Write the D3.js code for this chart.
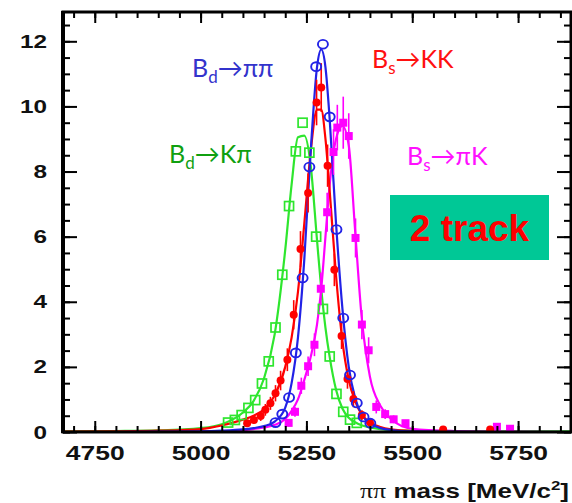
<!DOCTYPE html>
<html>
<head>
<meta charset="utf-8">
<script src="https://cdn.jsdelivr.net/npm/d3@7"></script>
<style>
  html, body { margin: 0; padding: 0; background: #fff; }
  svg { display: block; }
</style>
</head>
<body>
<div id="chart"></div>
<script>
// B_d -> K pi (open green squares)
const kpiMass = [5065, 5081, 5097, 5113, 5129, 5145, 5161, 5177, 5193, 5209, 5225, 5241, 5257, 5273, 5289, 5305, 5321, 5337, 5353, 5369];
const kpiVals = [0.29, 0.37, 0.52, 0.74, 0.98, 1.49, 2.17, 3.21, 4.83, 6.94, 8.62, 9.50, 8.58, 6.00, 3.78, 2.32, 1.17, 0.62, 0.38, 0.28];

// B_d -> pi pi (open blue circles)
const pipiMass = [5177, 5193, 5209, 5225, 5241, 5257, 5273, 5289, 5305, 5321, 5337, 5353, 5369, 5385, 5401];
const pipiVals = [0.29, 0.55, 1.06, 2.43, 4.73, 8.14, 11.22, 11.91, 9.68, 6.22, 3.50, 1.75, 0.89, 0.46, 0.27];

// B_s -> K K (filled red circles)
const kkMass = [5110, 5126, 5142, 5153, 5165, 5177, 5189, 5205, 5220, 5236, 5254, 5274, 5285, 5300, 5316, 5333, 5347, 5361, 5381, 5400, 5573, 5684];
const kkVals = [0.27, 0.37, 0.49, 0.68, 0.88, 1.19, 1.58, 2.22, 3.60, 5.62, 7.34, 10.12, 10.58, 8.18, 4.98, 2.95, 1.63, 1.01, 0.52, 0.30, 0.08, 0.08];
const kkErr  = [0.10, 0.12, 0.15, 0.18, 0.20, 0.25, 0.30, 0.35, 0.45, 0.55, 0.60, 0.70, 0.75, 0.65, 0.50, 0.40, 0.30, 0.25, 0.15, 0.10, 0.05, 0.05];

// B_s -> pi K (filled magenta squares)
const pikMass = [5208, 5223, 5238, 5254, 5269, 5284, 5299, 5314, 5323, 5337, 5350, 5366, 5381, 5397, 5415, 5436, 5456, 5484, 5700, 5731];
const pikVals = [0.28, 0.62, 1.42, 2.02, 2.68, 4.40, 6.75, 8.60, 9.35, 9.50, 9.09, 5.96, 3.30, 2.51, 0.77, 0.55, 0.39, 0.27, 0.16, 0.10];
const pikErr  = [0.10, 0.15, 0.25, 0.30, 0.35, 0.50, 0.60, 0.70, 0.70, 0.80, 0.70, 0.60, 0.45, 0.40, 0.20, 0.15, 0.12, 0.10, 0.08, 0.05];

// fitted line shapes
const fitMass = [4675, 4800, 4900, 5000, 5050, 5100, 5125, 5150, 5175, 5200, 5215, 5230, 5245, 5260, 5275, 5285, 5295, 5305, 5320, 5335, 5350, 5365, 5380, 5400, 5425, 5450, 5500, 5600, 5700, 5875];
const fitKpi  = [0.02, 0.03, 0.05, 0.12, 0.24, 0.60, 0.95, 1.65, 3.00, 5.60, 7.60, 9.05, 9.10, 8.20, 5.90, 4.40, 3.20, 2.30, 1.30, 0.72, 0.44, 0.30, 0.21, 0.14, 0.09, 0.06, 0.04, 0.03, 0.02, 0.02];
const fitPipi = [0.00, 0.00, 0.01, 0.02, 0.04, 0.08, 0.12, 0.18, 0.32, 0.75, 1.50, 2.90, 5.30, 8.60, 11.2, 11.75, 11.2, 9.60, 6.40, 3.80, 2.00, 1.05, 0.55, 0.27, 0.12, 0.06, 0.02, 0.01, 0.00, 0.00];
const fitKK   = [0.01, 0.02, 0.04, 0.09, 0.20, 0.38, 0.50, 0.70, 1.12, 2.00, 2.90, 4.30, 6.40, 8.60, 9.90, 9.90, 9.00, 7.40, 4.80, 2.80, 1.60, 0.95, 0.55, 0.30, 0.15, 0.08, 0.03, 0.01, 0.00, 0.00];
const fitPiK  = [0.00, 0.00, 0.01, 0.02, 0.03, 0.06, 0.09, 0.14, 0.22, 0.40, 0.65, 1.00, 1.60, 2.30, 3.30, 4.40, 6.00, 7.60, 9.00, 9.40, 8.80, 6.20, 3.60, 1.70, 0.80, 0.40, 0.10, 0.03, 0.01, 0.00];

const xMajor = [4750, 5000, 5250, 5500, 5750];
const xMinor = d3.range(4700, 5876, 50);
const yMajor = [0, 2, 4, 6, 8, 10, 12];
const yMinor = d3.range(0, 12.9, 0.5);

const width = 572, height = 503;
const plotLeft = 63, plotRight = 571, plotTop = 12, plotBottom = 432;

const x = d3.scaleLinear().domain([4675, 5875]).range([plotLeft, plotRight]);
const y = d3.scaleLinear().domain([0, 12.9]).range([plotBottom, plotTop]);

const svg = d3.select('#chart').append('svg')
    .attr('width', width)
    .attr('height', height);

svg.append('defs').append('clipPath').attr('id', 'plot')
    .append('rect')
    .attr('x', plotLeft).attr('y', plotTop)
    .attr('width', plotRight - plotLeft).attr('height', plotBottom - plotTop);

const plot = svg.append('g').attr('clip-path', 'url(#plot)');

const line = d3.line()
    .x(d => x(d[0]))
    .y(d => y(d[1]))
    .curve(d3.curveMonotoneX);

const green = '#2ee62e', blue = '#2222e6', red = '#ff0000', magenta = '#ff00ff';

// draw order: green, magenta, red, blue
plot.append('path').datum(d3.zip(fitMass, fitKpi))
    .attr('d', line).attr('fill', 'none').attr('stroke', green).attr('stroke-width', 2.2);

plot.append('path').datum(d3.zip(fitMass, fitPiK))
    .attr('d', line).attr('fill', 'none').attr('stroke', magenta).attr('stroke-width', 2.2);

plot.append('path').datum(d3.zip(fitMass, fitKK))
    .attr('d', line).attr('fill', 'none').attr('stroke', red).attr('stroke-width', 2.2);

plot.append('path').datum(d3.zip(fitMass, fitPipi))
    .attr('d', line).attr('fill', 'none').attr('stroke', blue).attr('stroke-width', 2.2);

// markers
plot.selectAll('.kpi').data(d3.zip(kpiMass, kpiVals)).enter()
    .append('rect').attr('class', 'kpi')
    .attr('x', d => x(d[0]) - 4.5).attr('y', d => y(d[1]) - 4.5)
    .attr('width', 9).attr('height', 9)
    .attr('fill', 'none').attr('stroke', green).attr('stroke-width', 1.7);

const pik = d3.zip(pikMass, pikVals, pikErr);
plot.selectAll('.pikErr').data(pik).enter()
    .append('line').attr('class', 'pikErr')
    .attr('x1', d => x(d[0])).attr('x2', d => x(d[0]))
    .attr('y1', d => y(d[1] - d[2])).attr('y2', d => y(d[1] + d[2]))
    .attr('stroke', magenta).attr('stroke-width', 1.6);
plot.selectAll('.pik').data(pik).enter()
    .append('rect').attr('class', 'pik')
    .attr('x', d => x(d[0]) - 4).attr('y', d => y(d[1]) - 4)
    .attr('width', 8).attr('height', 8)
    .attr('fill', magenta);

const kk = d3.zip(kkMass, kkVals, kkErr);
plot.selectAll('.kkErr').data(kk).enter()
    .append('line').attr('class', 'kkErr')
    .attr('x1', d => x(d[0])).attr('x2', d => x(d[0]))
    .attr('y1', d => y(d[1] - d[2])).attr('y2', d => y(d[1] + d[2]))
    .attr('stroke', red).attr('stroke-width', 1.6);
plot.selectAll('.kk').data(kk).enter()
    .append('circle').attr('class', 'kk')
    .attr('cx', d => x(d[0])).attr('cy', d => y(d[1]))
    .attr('r', 4)
    .attr('fill', red);

plot.selectAll('.pipi').data(d3.zip(pipiMass, pipiVals)).enter()
    .append('ellipse').attr('class', 'pipi')
    .attr('cx', d => x(d[0])).attr('cy', d => y(d[1]))
    .attr('rx', 5).attr('ry', 4.4)
    .attr('fill', 'none').attr('stroke', blue).attr('stroke-width', 1.9);

// axes, ROOT style with ticks on all four sides
const tickFont = "'Liberation Sans', Arial, sans-serif";

const xAxis = svg.append('g').attr('transform', `translate(0,${plotBottom})`)
    .call(d3.axisBottom(x).tickValues(xMajor).tickSize(-11).tickPadding(13).tickFormat(d3.format('d')));
xAxis.selectAll('text')
    .attr('font-family', tickFont).attr('font-size', 21).attr('font-weight', 'bold')
    .attr('fill', '#111').attr('transform', 'scale(1.26,1)');
svg.append('g').attr('transform', `translate(0,${plotBottom})`)
    .call(d3.axisBottom(x).tickValues(xMinor).tickSize(-6).tickFormat(''));

svg.append('g').attr('transform', `translate(0,${plotTop})`)
    .call(d3.axisTop(x).tickValues(xMajor).tickSize(-11).tickFormat(''));
svg.append('g').attr('transform', `translate(0,${plotTop})`)
    .call(d3.axisTop(x).tickValues(xMinor).tickSize(-6).tickFormat(''));

const yAxis = svg.append('g').attr('transform', `translate(${plotLeft},0)`)
    .call(d3.axisLeft(y).tickValues(yMajor).tickSize(-14).tickPadding(16).tickFormat(d3.format('d')));
yAxis.selectAll('text')
    .attr('font-family', tickFont).attr('font-size', 19).attr('font-weight', 'bold')
    .attr('fill', '#111').attr('x', -16 / 1.28).attr('transform', 'scale(1.28,1)');
svg.append('g').attr('transform', `translate(${plotLeft},0)`)
    .call(d3.axisLeft(y).tickValues(yMinor).tickSize(-7).tickFormat(''));

svg.append('g').attr('transform', `translate(${plotRight},0)`)
    .call(d3.axisRight(y).tickValues(yMajor).tickSize(-14).tickFormat(''));
svg.append('g').attr('transform', `translate(${plotRight},0)`)
    .call(d3.axisRight(y).tickValues(yMinor).tickSize(-7).tickFormat(''));

svg.selectAll('.domain').remove();
svg.selectAll('.tick line').attr('stroke', '#000').attr('stroke-width', 2);

// frame
svg.append('rect')
    .attr('x', plotLeft).attr('y', plotTop)
    .attr('width', plotRight - plotLeft).attr('height', plotBottom - plotTop)
    .attr('fill', 'none').attr('stroke', '#000').attr('stroke-width', 3);
svg.append('line')
    .attr('x1', plotLeft).attr('x2', plotLeft).attr('y1', plotTop - 1).attr('y2', plotBottom + 1)
    .attr('stroke', '#000').attr('stroke-width', 4);

// x title
const title = svg.append('text')
    .attr('transform', 'translate(569,498) scale(1.3,1)')
    .attr('text-anchor', 'end')
    .attr('font-family', tickFont).attr('font-size', 20).attr('font-weight', 'bold')
    .attr('fill', '#111');
title.append('tspan').attr('font-family', "'Liberation Serif', serif").attr('font-weight', 'normal').text('ππ');
title.append('tspan').text(' mass [MeV/c');
title.append('tspan').attr('font-size', 13).attr('dy', -8).text('2');
title.append('tspan').attr('dy', 8).text(']');

// decay labels
const labelFont = "Lato, 'Open Sans', 'DejaVu Sans', sans-serif";
function decayLabel(px, py, sub, rest, color) {
    const t = svg.append('text')
        .attr('x', px).attr('y', py)
        .attr('font-family', labelFont).attr('font-size', 25)
        .attr('fill', color);
    t.append('tspan').text('B');
    t.append('tspan').attr('font-size', 17).attr('dy', 6).text(sub);
    t.append('tspan').attr('dy', -6).text(rest);
}
decayLabel(192, 77, 'd', '→ππ', '#3333cc');
decayLabel(372, 68, 's', '→KK', '#ff1010');
decayLabel(169, 163, 'd', '→Kπ', '#10a010');
decayLabel(407, 165, 's', '→πK', '#ff10ff');

// "2 track" box
svg.append('rect')
    .attr('x', 390).attr('y', 195)
    .attr('width', 159).attr('height', 65)
    .attr('fill', '#00c896');
svg.append('text')
    .attr('x', 469.5).attr('y', 241)
    .attr('text-anchor', 'middle')
    .attr('font-family', tickFont).attr('font-size', 37).attr('font-weight', 'bold')
    .attr('fill', '#ff0000')
    .text('2 track');
</script>
</body>
</html>
